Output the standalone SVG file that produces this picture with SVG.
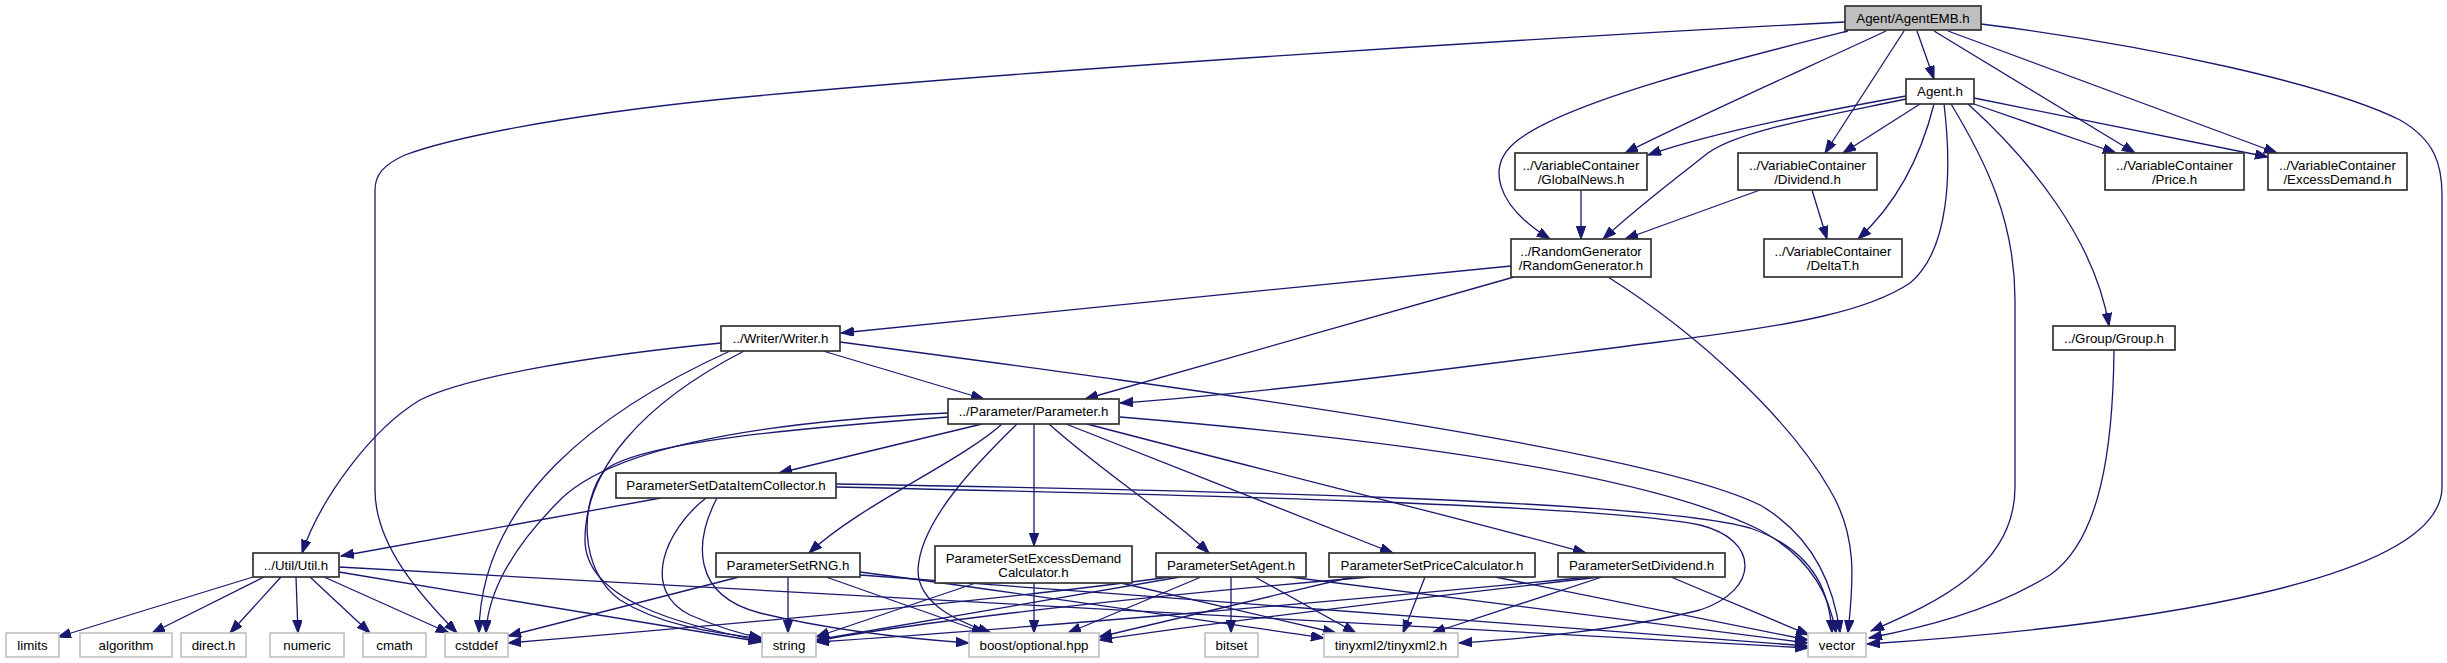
<svg xmlns="http://www.w3.org/2000/svg" width="2447" height="663" viewBox="0 0 2447 663">
<style>
.n rect{fill:#fff;stroke:#333;stroke-width:1.7}
.n.root rect{fill:#bfbfbf}
.n.sys rect{stroke:#c4c4c4}
.n text{font-family:"Liberation Sans",Arial,Helvetica,sans-serif;font-size:13.33px;fill:#000;text-anchor:middle}
#edges path{fill:none;stroke:#191970;stroke-width:1.3;marker-end:url(#ah)}
</style>
<defs>
<marker id="ah" markerUnits="userSpaceOnUse" markerWidth="14" markerHeight="10" refX="13" refY="4.7" orient="auto">
<path d="M0,0 L13,4.7 L0,9.4 z" fill="#191970" stroke="#191970" stroke-width="1"/>
</marker>
</defs>
<rect width="2447" height="663" fill="#fff"/>
<g id="edges">
<path d="M1845,22 C1500,40 1000,72 714,100 C560,116 450,138 405,155 C383,165 375,175 375,190 L375,490 C375,545 420,595 457,633"/>
<path d="M1848,31 C1740,58 1570,100 1518,140 C1485,165 1495,205 1550,239"/>
<path d="M1886,31 C1820,62 1700,115 1625,153"/>
<path d="M1904,31 L1825,153"/>
<path d="M1917,31 L1934,79"/>
<path d="M1934,31 L2135,153"/>
<path d="M1948,31 L2277,153"/>
<path d="M1981,24 C2150,45 2330,85 2400,120 C2435,140 2442,165 2442,195 L2442,487 C2442,580 2150,625 1867,644"/>
<path d="M1906,96 C1840,108 1720,130 1648,155"/>
<path d="M1906,99 C1830,115 1740,130 1708,153 C1680,175 1640,205 1603,239"/>
<path d="M1920,104 L1843,153"/>
<path d="M1934,104 C1920,160 1895,205 1858,239"/>
<path d="M1944,104 C1952,170 1950,250 1910,283 C1870,310 1800,325 1659,342 C1500,362 1300,390 1120,403"/>
<path d="M1951,104 C1985,160 2015,220 2015,300 L2015,487 C2015,570 1930,605 1871,631"/>
<path d="M1968,104 C2030,160 2095,240 2109,326"/>
<path d="M1974,104 L2116,153"/>
<path d="M1974,98 L2268,157"/>
<path d="M1581,190 L1581,239"/>
<path d="M1760,190 L1625,239"/>
<path d="M1812,190 L1827,239"/>
<path d="M1511,266 C1300,287 1000,316 841,333"/>
<path d="M1514,277 L1085,399"/>
<path d="M1608,277 C1700,335 1790,420 1830,490 C1860,540 1852,590 1848,633"/>
<path d="M823,351 L984,399"/>
<path d="M721,343 C600,355 470,375 420,400 C370,430 320,500 302,553"/>
<path d="M730,351 C600,410 480,500 479,633"/>
<path d="M744,351 C640,405 585,470 585,540 C585,600 680,625 762,641"/>
<path d="M840,342 C1200,390 1650,450 1760,505 C1820,540 1835,595 1840,633"/>
<path d="M948,413 C800,420 620,440 560,500 C515,545 488,590 486,633"/>
<path d="M948,417 C800,428 640,442 605,470 C580,500 578,570 620,600 C665,628 720,633 762,639"/>
<path d="M982,424 L779,473"/>
<path d="M1002,424 C960,462 860,505 809,553"/>
<path d="M1017,424 C980,460 920,520 918,570 C918,605 960,622 991,633"/>
<path d="M1034,424 L1034,546"/>
<path d="M1049,424 C1100,470 1170,515 1209,553"/>
<path d="M1066,424 L1393,553"/>
<path d="M1087,424 C1300,480 1450,515 1586,553"/>
<path d="M1120,417 C1400,440 1650,475 1760,530 C1815,560 1830,600 1836,633"/>
<path d="M2114,350 C2113,450 2100,540 2050,575 C1990,612 1920,628 1869,638"/>
<path d="M661,498 L341,556"/>
<path d="M706,498 C665,530 640,590 690,615 C720,628 740,634 762,638"/>
<path d="M717,498 C695,540 690,595 760,613 C830,630 900,638 969,643"/>
<path d="M836,487 C1200,495 1600,505 1700,525 C1760,540 1760,590 1700,610 C1620,630 1530,638 1459,643"/>
<path d="M836,484 C1200,490 1650,500 1750,528 C1820,552 1830,600 1832,633"/>
<path d="M253,577 L58,637"/>
<path d="M264,577 L152,633"/>
<path d="M281,577 L230,633"/>
<path d="M296,577 L298,633"/>
<path d="M310,577 L370,633"/>
<path d="M324,577 L449,633"/>
<path d="M339,572 L762,642"/>
<path d="M339,567 L1808,648"/>
<path d="M739,577 L508,636"/>
<path d="M788,577 L788,633"/>
<path d="M826,577 L985,633"/>
<path d="M860,572 C1000,590 1200,620 1324,638"/>
<path d="M860,575 C1200,600 1600,630 1808,646"/>
<path d="M976,583 L816,637"/>
<path d="M1034,583 L1034,633"/>
<path d="M1121,583 L1336,633"/>
<path d="M1170,577 C1000,600 700,627 508,643"/>
<path d="M1180,577 L816,640"/>
<path d="M1201,577 L1068,633"/>
<path d="M1231,577 L1231,633"/>
<path d="M1255,577 L1356,633"/>
<path d="M1290,577 C1500,605 1700,630 1808,643"/>
<path d="M1370,577 C1100,600 900,625 816,641"/>
<path d="M1352,577 L1099,637"/>
<path d="M1425,577 L1403,633"/>
<path d="M1495,577 L1808,640"/>
<path d="M1590,577 C1300,605 1000,630 816,642"/>
<path d="M1600,577 C1400,600 1200,625 1099,640"/>
<path d="M1602,577 L1432,633"/>
<path d="M1671,577 L1809,635"/>
</g>
<g id="n-agentemb" class="n root"><rect x="1845" y="6" width="136" height="24"/><text x="1913" y="22.5">Agent/AgentEMB.h</text></g>
<g id="n-agent" class="n"><rect x="1906" y="79" width="68" height="25"/><text x="1940" y="96">Agent.h</text></g>
<g id="n-globalnews" class="n"><rect x="1515" y="153" width="132" height="37"/><text x="1581" y="170">../VariableContainer</text><text x="1581" y="184">/GlobalNews.h</text></g>
<g id="n-dividend" class="n"><rect x="1738" y="153" width="139" height="37"/><text x="1807.5" y="170">../VariableContainer</text><text x="1807.5" y="184">/Dividend.h</text></g>
<g id="n-price" class="n"><rect x="2105" y="153" width="139" height="37"/><text x="2174.5" y="170">../VariableContainer</text><text x="2174.5" y="184">/Price.h</text></g>
<g id="n-excessdemand" class="n"><rect x="2268" y="153" width="139" height="37"/><text x="2337.5" y="170">../VariableContainer</text><text x="2337.5" y="184">/ExcessDemand.h</text></g>
<g id="n-randomgenerator" class="n"><rect x="1511" y="239" width="140" height="38"/><text x="1581" y="256">../RandomGenerator</text><text x="1581" y="270">/RandomGenerator.h</text></g>
<g id="n-deltat" class="n"><rect x="1764" y="239" width="138" height="38"/><text x="1833" y="256">../VariableContainer</text><text x="1833" y="270">/DeltaT.h</text></g>
<g id="n-group" class="n"><rect x="2053" y="326" width="122" height="24"/><text x="2114" y="342.5">../Group/Group.h</text></g>
<g id="n-writer" class="n"><rect x="721" y="326" width="119" height="25"/><text x="780.5" y="343">../Writer/Writer.h</text></g>
<g id="n-parameter" class="n"><rect x="948" y="399" width="171" height="25"/><text x="1033.5" y="416">../Parameter/Parameter.h</text></g>
<g id="n-psdataitem" class="n"><rect x="616" y="473" width="220" height="25"/><text x="726" y="490">ParameterSetDataItemCollector.h</text></g>
<g id="n-util" class="n"><rect x="253" y="553" width="86" height="24"/><text x="296" y="569.5">../Util/Util.h</text></g>
<g id="n-psrng" class="n"><rect x="716" y="553" width="144" height="24"/><text x="788" y="569.5">ParameterSetRNG.h</text></g>
<g id="n-psexcess" class="n"><rect x="935" y="546" width="197" height="37"/><text x="1033.5" y="563">ParameterSetExcessDemand</text><text x="1033.5" y="577">Calculator.h</text></g>
<g id="n-psagent" class="n"><rect x="1156" y="553" width="150" height="24"/><text x="1231" y="569.5">ParameterSetAgent.h</text></g>
<g id="n-psprice" class="n"><rect x="1329" y="553" width="206" height="24"/><text x="1432" y="569.5">ParameterSetPriceCalculator.h</text></g>
<g id="n-psdividend" class="n"><rect x="1558" y="553" width="167" height="24"/><text x="1641.5" y="569.5">ParameterSetDividend.h</text></g>
<g id="n-limits" class="n sys"><rect x="6" y="633" width="53" height="24"/><text x="32.5" y="649.5">limits</text></g>
<g id="n-algorithm" class="n sys"><rect x="80" y="633" width="92" height="24"/><text x="126" y="649.5">algorithm</text></g>
<g id="n-direct" class="n sys"><rect x="181" y="633" width="65" height="24"/><text x="213.5" y="649.5">direct.h</text></g>
<g id="n-numeric" class="n sys"><rect x="270" y="633" width="74" height="24"/><text x="307" y="649.5">numeric</text></g>
<g id="n-cmath" class="n sys"><rect x="363" y="633" width="63" height="24"/><text x="394.5" y="649.5">cmath</text></g>
<g id="n-cstddef" class="n sys"><rect x="445" y="633" width="63" height="24"/><text x="476.5" y="649.5">cstddef</text></g>
<g id="n-string" class="n sys"><rect x="762" y="633" width="54" height="24"/><text x="789" y="649.5">string</text></g>
<g id="n-boost" class="n sys"><rect x="969" y="633" width="130" height="24"/><text x="1034" y="649.5">boost/optional.hpp</text></g>
<g id="n-bitset" class="n sys"><rect x="1205" y="633" width="53" height="24"/><text x="1231.5" y="649.5">bitset</text></g>
<g id="n-tinyxml2" class="n sys"><rect x="1324" y="633" width="134" height="24"/><text x="1391" y="649.5">tinyxml2/tinyxml2.h</text></g>
<g id="n-vector" class="n sys"><rect x="1808" y="633" width="58" height="24"/><text x="1837" y="649.5">vector</text></g>
</svg>
